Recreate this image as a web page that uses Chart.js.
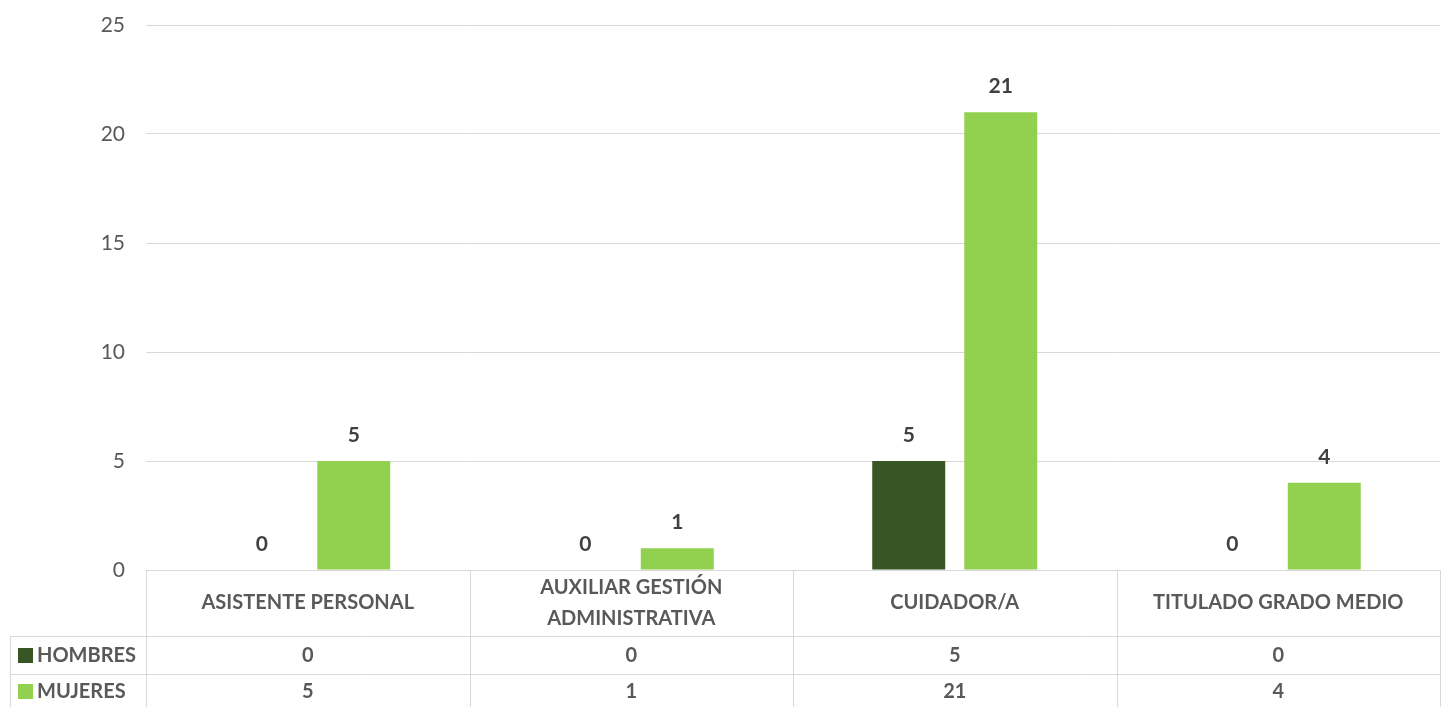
<!DOCTYPE html>
<html><head><meta charset="utf-8">
<script src="https://cdn.jsdelivr.net/npm/chart.js@4.4.0/dist/chart.umd.min.js"></script>
<style>html,body{margin:0;padding:0;background:#fff;overflow:hidden}#wrap{width:1445px;height:707px;position:relative}</style>
</head><body><div id="wrap"><canvas id="c"></canvas></div>
<script>
const categories = [['ASISTENTE PERSONAL'], ['AUXILIAR GESTIÓN', 'ADMINISTRATIVA'], ['CUIDADOR/A'], ['TITULADO GRADO MEDIO']];
const seriesNames = ['HOMBRES', 'MUJERES'];
const hombres = [0, 0, 5, 0];
const mujeres = [5, 1, 21, 4];
const yTicks = [0, 5, 10, 15, 20, 25];
const seriesColors = ['#375623', '#92D050'];

const FONT = 'Lato';
const GRID = '#d9d9d9';
const TABLE_LEFT = 10;
const HEADER_BOTTOM = 636;
const ROW1_BOTTOM = 674;

const valueLabels = {
  id: 'valueLabels',
  afterDatasetsDraw(chart) {
    const ctx = chart.ctx;
    ctx.save();
    ctx.font = 'bold 21px ' + FONT;
    ctx.fillStyle = '#404040';
    ctx.textAlign = 'center';
    ctx.textBaseline = 'middle';
    chart.data.datasets.forEach((ds, di) => {
      const meta = chart.getDatasetMeta(di);
      meta.data.forEach((bar, i) => {
        ctx.fillText(String(ds.data[i]), bar.x, bar.y - 26);
      });
    });
    ctx.restore();
  }
};

const dataTable = {
  id: 'dataTable',
  afterDraw(chart) {
    const ctx = chart.ctx;
    const ca = chart.chartArea;
    const xs = chart.scales.x;
    const n = categories.length;
    const step = xs.getPixelForValue(1) - xs.getPixelForValue(0);
    const bottom = chart.height;
    ctx.save();
    ctx.strokeStyle = GRID;
    ctx.lineWidth = 1;
    const hline = (x1, x2, y) => { ctx.beginPath(); ctx.moveTo(x1, Math.round(y) + 0.5); ctx.lineTo(x2, Math.round(y) + 0.5); ctx.stroke(); };
    const vline = (x, y1, y2) => { ctx.beginPath(); ctx.moveTo(Math.round(x) + 0.5, y1); ctx.lineTo(Math.round(x) + 0.5, y2); ctx.stroke(); };
    hline(ca.left, ca.right, ca.bottom);
    hline(TABLE_LEFT, ca.right, HEADER_BOTTOM);
    hline(TABLE_LEFT, ca.right, ROW1_BOTTOM);
    for (let i = 0; i <= n; i++) {
      vline(xs.getPixelForValue(0) - step / 2 + i * step, ca.bottom, bottom);
    }
    vline(TABLE_LEFT, HEADER_BOTTOM, bottom);

    // header
    ctx.fillStyle = '#595959';
    ctx.font = 'bold 20px ' + FONT;
    ctx.textAlign = 'center';
    ctx.textBaseline = 'middle';
    const headerMid = (ca.bottom + HEADER_BOTTOM) / 2;
    const lh = 31;
    categories.forEach((lines, i) => {
      const cx = xs.getPixelForValue(i);
      const y0 = headerMid - (lines.length - 1) * lh / 2;
      lines.forEach((t, k) => ctx.fillText(t, cx, y0 + k * lh));
    });

    // rows
    const rowMids = [(HEADER_BOTTOM + ROW1_BOTTOM) / 2 + 1, ROW1_BOTTOM + 18];
    chart.data.datasets.forEach((ds, di) => {
      const y = rowMids[di];
      ctx.fillStyle = ds.backgroundColor;
      ctx.fillRect(18, Math.round(y - 8), 15, 15);
      ctx.fillStyle = '#595959';
      ctx.textAlign = 'left';
      ctx.fillText(ds.label, 37, y);
      ctx.textAlign = 'center';
      ds.data.forEach((v, i) => ctx.fillText(String(v), xs.getPixelForValue(i), y));
    });
    ctx.restore();
  }
};

new Chart(document.getElementById('c'), {
  type: 'bar',
  data: {
    labels: categories.map(c => c.join(' ')),
    datasets: [
      { label: seriesNames[0], data: hombres, backgroundColor: seriesColors[0] },
      { label: seriesNames[1], data: mujeres, backgroundColor: seriesColors[1] }
    ]
  },
  options: {
    responsive: true,
    maintainAspectRatio: false,
    animation: false,
    devicePixelRatio: 1,
    layout: { padding: { left: 0, right: 5, top: 25, bottom: 137 } },
    categoryPercentage: 0.569,
    barPercentage: 0.793,
    plugins: { legend: { display: false }, tooltip: { enabled: false } },
    scales: {
      x: { display: false },
      y: {
        min: 0, max: 25,
        afterFit(s) { s.width = 146; s.paddingTop = 0; s.paddingBottom = 0; },
        afterBuildTicks(s) { s.ticks = yTicks.map(v => ({ value: v })); },
        border: { display: false },
        grid: { color: GRID, lineWidth: 1, drawTicks: false },
        ticks: { color: '#595959', font: { family: FONT, size: 21 }, padding: 21 }
      }
    }
  },
  plugins: [valueLabels, dataTable]
});
</script>
</body></html>
